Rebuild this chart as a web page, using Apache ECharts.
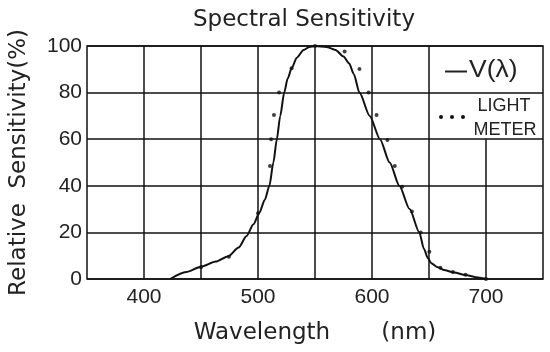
<!DOCTYPE html>
<html>
<head>
<meta charset="utf-8">
<script src="https://cdn.jsdelivr.net/npm/echarts@6/dist/echarts.min.js"></script>
<style>html,body{margin:0;padding:0;background:#fff;}#c{width:550px;height:352px;}</style>
</head>
<body>
<div id="c"></div>
<script>
// V(lambda) curve (solid line)
const curveNm  = [423, 437, 450, 463, 474, 483, 490, 496, 501, 506, 510, 513.5, 516.5, 519.5, 523, 526, 529.5, 534, 540, 545, 550, 560, 568, 575, 580, 584, 589, 598, 607, 615.5, 624, 633, 641.5, 645.5, 649, 652, 657, 663, 672, 682, 691, 700];
const curveVal = [0, 3, 5.3, 7.5, 9.8, 13.5, 18.5, 23.5, 28.2, 34, 40, 50, 60, 70, 80, 86, 90.4, 95, 98.3, 99.6, 100, 99.6, 98.3, 95.5, 92.5, 88, 80, 70, 60, 50, 40, 30, 20, 13, 9, 6.8, 5.2, 3.9, 2.8, 1.7, 0.8, 0];
// Light meter (dots)
const meterNm  = [450, 474.5, 500, 510.5, 511.5, 514, 518.5, 529.5, 550, 576, 589, 597, 604, 613.5, 620, 626.5, 635, 642.7, 650.3, 660, 671, 682, 700];
const meterVal = [5, 9.6, 28.2, 48.5, 60, 70.4, 80, 90.4, 100, 97.6, 90.1, 80, 70.4, 59.7, 48.5, 39.6, 29, 20, 11.7, 4.8, 3, 1.8, 0];
// axis ticks
const xLabels = [400, 500, 600, 700];
const yTicks = [0, 20, 40, 60, 80, 100];

const ink = '#111';
const txt = '#222';
const gridW = 1.5;

const vLines = [[400,0,100],[450,0,100],[500,0,100],[550,0,100],[600,0,100],[650,0,100],[700,0,60]]
  .map(v => [{coord:[v[0], v[1]]}, {coord:[v[0], v[2]]}]);

const chart = echarts.init(document.getElementById('c'), null, {renderer:'canvas'});
chart.setOption({
  animation: false,
  backgroundColor: '#fff',
  title: {
    text: 'Spectral Sensitivity',
    left: 188, top: 4,
    textStyle: {fontFamily: 'DejaVu Sans', fontSize: 23, fontWeight: 'normal', color: txt}
  },
  grid: {left: 87, right: 7, top: 46, bottom: 73, show: true, borderColor: ink, borderWidth: gridW, backgroundColor: 'transparent'},
  xAxis: {
    type: 'value', min: 350, max: 750, interval: 50,
    name: 'Wavelength       (nm)', nameLocation: 'middle', nameGap: 43,
    nameTextStyle: {fontFamily: 'DejaVu Sans', fontSize: 23, color: txt},
    axisLine: {show: false}, axisTick: {show: false}, splitLine: {show: false},
    axisLabel: {
      margin: 8, fontFamily: 'Liberation Sans', fontSize: 21, color: txt,
      formatter: v => xLabels.indexOf(v) >= 0 ? String(v) : ''
    }
  },
  yAxis: {
    type: 'value', min: 0, max: 100, interval: 20,
    name: 'Relative  Sensitivity(%)', nameLocation: 'middle', nameGap: 56,
    nameTextStyle: {fontFamily: 'DejaVu Sans', fontSize: 23, color: txt},
    axisLine: {show: false}, axisTick: {show: false},
    splitLine: {show: true, lineStyle: {color: ink, width: gridW}},
    axisLabel: {
      margin: 5, fontFamily: 'Liberation Sans', fontSize: 21, color: txt,
      formatter: v => yTicks.indexOf(v) >= 0 ? String(v) : ''
    }
  },
  series: [
    {
      name: 'V(λ)', type: 'line', data: curveNm.map((x, i) => [x, curveVal[i]]),
      smooth: 0.25, smoothMonotone: 'x', showSymbol: false, silent: true,
      lineStyle: {color: ink, width: 2},
      markLine: {silent: true, symbol: 'none', label: {show: false},
        lineStyle: {color: ink, width: gridW, type: 'solid'}, data: vLines},
      z: 3
    },
    {
      name: 'LIGHT METER', type: 'scatter', data: meterNm.map((x, i) => [x, meterVal[i]]),
      symbol: 'circle', symbolSize: 4, itemStyle: {color: ink}, silent: true, z: 4
    }
  ],
  graphic: [
    {type: 'line', shape: {x1: 445, y1: 71.5, x2: 467, y2: 71.5}, style: {stroke: txt, lineWidth: 2}},
    {type: 'text', x: 469, y: 71, scaleX: 1.15, style: {text: 'V(λ)', font: '23px "Liberation Sans"', fill: txt, verticalAlign: 'middle'}},
    {type: 'circle', shape: {cx: 441, cy: 117, r: 2}, style: {fill: ink}},
    {type: 'circle', shape: {cx: 452, cy: 117, r: 2}, style: {fill: ink}},
    {type: 'circle', shape: {cx: 463, cy: 117, r: 2}, style: {fill: ink}},
    {type: 'text', x: 504, y: 106, style: {text: 'LIGHT', font: '18px "Liberation Sans"', fill: txt, align: 'center', verticalAlign: 'middle'}},
    {type: 'text', x: 505, y: 130, style: {text: 'METER', font: '18px "Liberation Sans"', fill: txt, align: 'center', verticalAlign: 'middle'}}
  ]
});
</script>
</body>
</html>
